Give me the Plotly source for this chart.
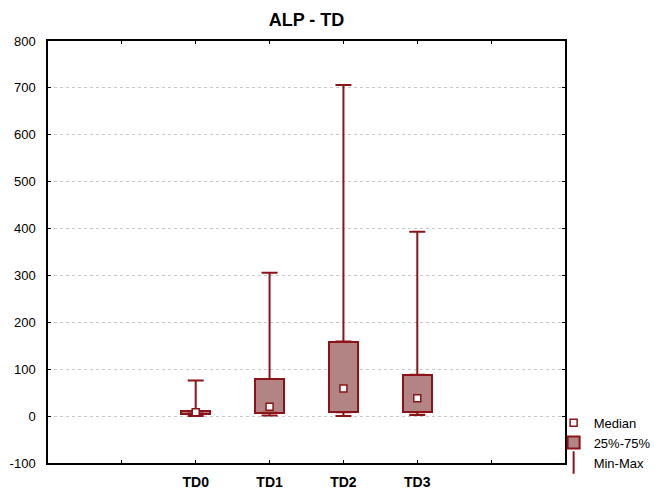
import plotly.graph_objects as go

categories = ["TD0", "TD1", "TD2", "TD3"]
x_pos = [0, 1, 2, 3]
mins = [0.5, 1.5, 0, 2.5]
q1 = [4.5, 7, 8, 8]
medians = [8, 20, 59, 38]
q3 = [10, 79, 159, 88]
maxs = [76, 306, 706, 393]

tick_vals = [-1, 0, 1, 2, 3, 4]
tick_text = [""] + ["<b>%s</b>" % c for c in categories] + [""]
y_tick_vals = [-100, 0, 100, 200, 300, 400, 500, 600, 700, 800]
y_tick_text = ["-100", "0", "100", "200", "300", "400", "500", "600", "700", "800"]

DARK = "rgb(140,20,24)"
FILL = "rgb(178,132,132)"
FONT = "Arial, Liberation Sans, sans-serif"

fig = go.Figure()

fig.add_trace(go.Bar(
    x=x_pos, y=[b - a for a, b in zip(q1, q3)], base=q1, width=0.4,
    marker=dict(color=FILL, line=dict(color=DARK, width=2)),
    name="25%-75%", showlegend=True, legendrank=2,
))

fig.add_trace(go.Scatter(
    x=x_pos, y=q3, mode="markers", marker=dict(size=0.1, opacity=0),
    error_y=dict(type="data", symmetric=False,
                 array=[m - t for m, t in zip(maxs, q3)],
                 arrayminus=[0] * 4, color=DARK, thickness=2, width=8),
    showlegend=False, hoverinfo="skip",
))
fig.add_trace(go.Scatter(
    x=x_pos, y=q1, mode="markers", marker=dict(size=0.1, opacity=0),
    error_y=dict(type="data", symmetric=False,
                 array=[0] * 4,
                 arrayminus=[b - m for b, m in zip(q1, mins)],
                 color=DARK, thickness=2, width=8),
    showlegend=False, hoverinfo="skip",
))

fig.add_trace(go.Scatter(
    x=x_pos, y=medians, mode="markers",
    marker=dict(symbol="square", size=7, color="white", line=dict(color=DARK, width=1.5)),
    name="Median", legendrank=1,
))

fig.add_trace(go.Scatter(
    x=[None], y=[None], mode="markers",
    marker=dict(symbol="line-ns-open", size=16, color=DARK, line=dict(color=DARK, width=2)),
    name="Min-Max", legendrank=3,
))

fig.update_layout(
    width=654, height=491,
    margin=dict(l=48, r=89, t=41, b=28, autoexpand=False),
    paper_bgcolor="white", plot_bgcolor="white",
    font=dict(family=FONT, size=13, color="black"),
    title=dict(text="<b>ALP - TD</b>", x=0.5, xref="paper", xanchor="center",
               y=1 - 20 / 491, yref="container", yanchor="middle",
               font=dict(size=18, family=FONT, color="black")),
    showlegend=True,
    legend=dict(x=0.978, xanchor="left", y=-0.035, yanchor="bottom",
                bgcolor="rgba(0,0,0,0)", font=dict(size=13, family=FONT),
                traceorder="normal", itemwidth=30, tracegroupgap=0),
    bargap=0,
)

fig.update_xaxes(
    range=[-2, 5], tickmode="array", tickvals=tick_vals, ticktext=tick_text,
    ticks="inside", ticklen=3, tickcolor="black", tickwidth=1,
    showline=True, linecolor="black", linewidth=1.5, mirror="ticks",
    showgrid=False, zeroline=False, tickfont=dict(size=14, family=FONT),
    ticklabelstandoff=5, automargin=False,
)
fig.update_yaxes(
    range=[-100, 800], tickmode="array", tickvals=y_tick_vals, ticktext=y_tick_text,
    ticks="inside", ticklen=3, tickcolor="black", tickwidth=1,
    showline=True, linecolor="black", linewidth=1.5, mirror="ticks",
    showgrid=True, gridcolor="#c8c8c8", griddash="dot", gridwidth=1,
    zeroline=False, tickfont=dict(size=13, family=FONT),
    ticklabelstandoff=8, automargin=False,
)

fig.write_html("out.html")
